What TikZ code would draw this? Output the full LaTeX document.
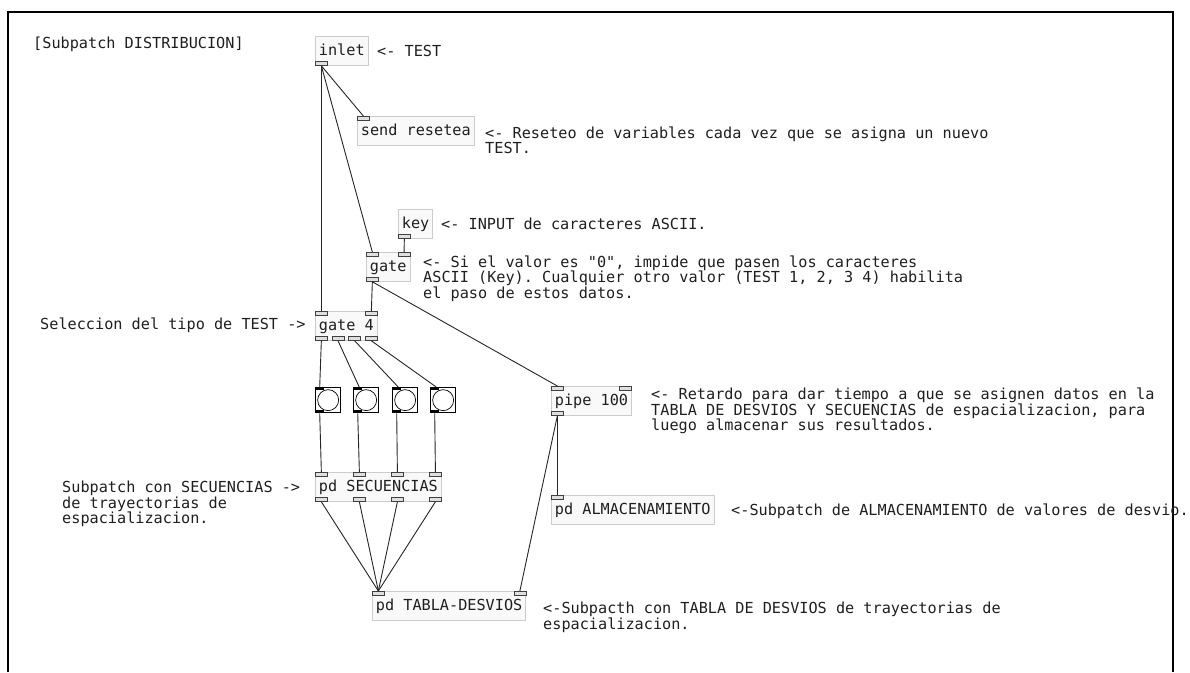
\documentclass[tikz,border=0pt]{standalone}
\usepackage{fontspec}
\newfontfamily\pdfont{DejaVu Sans Mono}
\usetikzlibrary{calc}
\frenchspacing
\begin{document}
\begin{tikzpicture}[x=1pt,y=-1pt,
  pdtext/.style={font=\pdfont\fontsize{15.2}{15.5}\selectfont, text=black!88},
  obj/.style={pdtext, draw=gray!40, fill=gray!5, line width=0.8, anchor=north west,
    minimum height=29, inner xsep=3.5, inner ysep=0, text height=12, text depth=2},
  cmt/.style={pdtext, anchor=base west, inner sep=0, align=left},
  nub/.style={rectangle, draw=black!75, fill=gray!25, line width=0.7,
    minimum width=12, minimum height=4, inner sep=0},
  bnub/.style={rectangle, fill=black, minimum width=9, minimum height=3, inner sep=0},
  bang/.style={rectangle, draw=black, line width=1.3, minimum size=25, inner sep=0,
    anchor=north west,
    path picture={\draw[line width=0.7] (path picture bounding box.center) circle (10.5);}},
  wire/.style={draw=black!85, line width=0.9},
  frame/.style={draw=black, line width=2}]
\useasboundingbox[fill=white] (0,0) rectangle (1190,672);
\draw[frame] (8,672) -- (8,11.5) -- (1173,11.5) -- (1173,672);

% comments (anchor = baseline of the last line)
\node[cmt] (c0) at (33,48.5) {{}[Subpatch DISTRIBUCION]};
\node[cmt] (c1) at (377,56) {<- TEST};
\node[cmt] (c2) at (485,153.5) {<- Reseteo de variables cada vez que se asigna un nuevo\\TEST.};
\node[cmt] (c3) at (441,229.5) {<- INPUT de caracteres ASCII.};
\node[cmt] (c4) at (423,298) {<- Si el valor es "0", impide que pasen los caracteres\\ASCII (Key). Cualquier otro valor (TEST 1, 2, 3 4) habilita\\el paso de estos datos.};
\node[cmt] (c5) at (40,329.5) {Seleccion del tipo de TEST ->};
\node[cmt] (c6) at (651,430.5) {<- Retardo para dar tiempo a que se asignen datos en la\\TABLA DE DESVIOS Y SECUENCIAS de espacializacion, para\\luego almacenar sus resultados.};
\node[cmt] (c7) at (731,515.5) {<-Subpatch de ALMACENAMIENTO de valores de desvio.};
\node[cmt] (c8) at (62,523.5) {Subpatch con SECUENCIAS ->\\de trayectorias de\\espacializacion.};
\node[cmt] (c9) at (543,629) {<-Subpacth con TABLA DE DESVIOS de trayectorias de\\espacializacion.};

% objects
\node[obj] (inl) at (315,36) {inlet};
\node[obj] (snd) at (357,116) {send resetea};
\node[obj] (key) at (398,209) {key};
\node[obj] (gt) at (366,252) {gate};
\node[obj] (g4) at (315,311) {gate 4};
\node[obj] (sec) at (315,472) {pd SECUENCIAS};
\node[obj] (pip) at (551,386) {pipe 100};
\node[obj] (alm) at (551,495) {pd ALMACENAMIENTO};
\node[obj] (tab) at (372,591) {pd TABLA-DESVIOS};

% bangs
\node[bang] (b1) at (315,387) {};
\node[bang] (b2) at (353,387) {};
\node[bang] (b3) at (392,387) {};
\node[bang] (b4) at (430,387) {};
\foreach \b in {b1,b2,b3,b4}{
  \node[bnub, anchor=north west] (\b-i) at (\b.north west) {};
  \node[bnub, anchor=south west] (\b-o) at (\b.south west) {};
}

% nubs (inlets / outlets)
\node[nub, anchor=south west] (inl-o0) at (inl.south west) {};
\node[nub, anchor=north west] (snd-i0) at (snd.north west) {};
\node[nub, anchor=south west] (key-o0) at (key.south west) {};
\node[nub, anchor=north west] (gt-i0) at (gt.north west) {};
\node[nub, anchor=north east] (gt-i1) at (gt.north east) {};
\node[nub, anchor=south west] (gt-o0) at (gt.south west) {};
\node[nub, anchor=north west] (g4-i0) at (g4.north west) {};
\node[nub, anchor=north east] (g4-i1) at (g4.north east) {};
\node[nub, anchor=south west] (g4-o0) at (g4.south west) {};
\node[nub, anchor=south east] (g4-o3) at (g4.south east) {};
\node[nub, anchor=south] (g4-o1) at ($(g4-o0.south)!1/3!(g4-o3.south)$) {};
\node[nub, anchor=south] (g4-o2) at ($(g4-o0.south)!2/3!(g4-o3.south)$) {};
\node[nub, anchor=north west] (sec-i0) at (sec.north west) {};
\node[nub, anchor=north east] (sec-i3) at (sec.north east) {};
\node[nub, anchor=north] (sec-i1) at ($(sec-i0.north)!1/3!(sec-i3.north)$) {};
\node[nub, anchor=north] (sec-i2) at ($(sec-i0.north)!2/3!(sec-i3.north)$) {};
\node[nub, anchor=south west] (sec-o0) at (sec.south west) {};
\node[nub, anchor=south east] (sec-o3) at (sec.south east) {};
\node[nub, anchor=south] (sec-o1) at ($(sec-o0.south)!1/3!(sec-o3.south)$) {};
\node[nub, anchor=south] (sec-o2) at ($(sec-o0.south)!2/3!(sec-o3.south)$) {};
\node[nub, anchor=north west] (pip-i0) at (pip.north west) {};
\node[nub, anchor=north east] (pip-i1) at (pip.north east) {};
\node[nub, anchor=south west] (pip-o0) at (pip.south west) {};
\node[nub, anchor=north west] (alm-i0) at (alm.north west) {};
\node[nub, anchor=north west] (tab-i0) at (tab.north west) {};
\node[nub, anchor=north east] (tab-i1) at (tab.north east) {};

% connections
\draw[wire] (inl-o0.south) -- (g4-i0.north);
\draw[wire] (inl-o0.south) -- (snd-i0.north);
\draw[wire] (inl-o0.south) -- (gt-i0.north);
\draw[wire] (key-o0.south) -- (gt-i1.north);
\draw[wire] (gt-o0.south) -- (g4-i1.north);
\draw[wire] (gt-o0.south) -- (pip-i0.north);
\draw[wire] (g4-o0.south) -- (b1-i.north);
\draw[wire] (g4-o1.south) -- ($(b2-i.north)+(1.5,0)$);
\draw[wire] (g4-o2.south) -- ($(b3-i.north)+(1.5,0)$);
\draw[wire] (g4-o3.south) -- ($(b4-i.north)+(1.5,0)$);
\draw[wire] (b1-o.south) -- (sec-i0.north);
\draw[wire] (b2-o.south) -- (sec-i1.north);
\draw[wire] (b3-o.south) -- (sec-i2.north);
\draw[wire] (b4-o.south) -- (sec-i3.north);
\draw[wire] (sec-o0.south) -- (tab-i0.north);
\draw[wire] (sec-o1.south) -- (tab-i0.north);
\draw[wire] (sec-o2.south) -- (tab-i0.north);
\draw[wire] (sec-o3.south) -- (tab-i0.north);
\draw[wire] (pip-o0.south) -- (alm-i0.north);
\draw[wire] (pip-o0.south) -- (tab-i1.north);
\end{tikzpicture}
\end{document}
